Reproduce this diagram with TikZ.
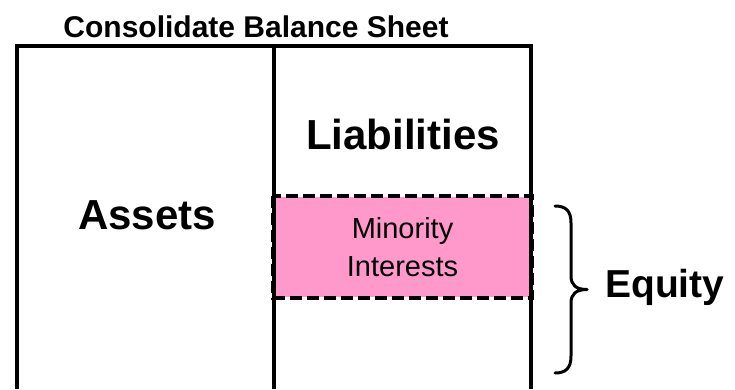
\documentclass[tikz,border=0pt]{standalone}
\usepackage{fontspec}
\setmainfont{Liberation Sans}
\definecolor{minpink}{HTML}{FF99CC}
\begin{document}
\begin{tikzpicture}[x=1pt,y=-1pt,
  frame/.style={line width=3.5pt},
  heading/.style={font=\fontsize{30}{34}\selectfont\bfseries, anchor=base, inner sep=0pt},
  bigword/.style={font=\fontsize{42}{48}\selectfont\bfseries, anchor=base, inner sep=0pt},
  minbox/.style={fill=minpink, minimum width=257pt, minimum height=100pt,
    inner sep=0pt, outer sep=1pt, align=center, font=\fontsize{29}{38}\selectfont},
  dashedge/.style={line width=4pt, dash pattern=on 12pt off 5pt},
  bracestroke/.style={line width=3pt, line join=round, line cap=round}]
\useasboundingbox (0,0) rectangle (735,389);

% two-column sheet, open at the bottom
\coordinate (tl) at (17,46);
\coordinate (tr) at (531,46);
\coordinate (tm) at (274,46);
\coordinate (bl) at (17,389);
\coordinate (br) at (531,389);
\coordinate (bm) at (274,389);

% minority interests band in the right column
\node[minbox] (minority) at (402.5,247) {Minority\\Interests};

\draw[frame] (bl) -- (tl) -- (tr) -- (br);
\draw[frame] (tm) -- (bm);
\draw[dashedge] (minority.north west) rectangle (minority.south east);

% labels
\node[heading] (title) at (256,37) {Consolidate Balance Sheet};
\node[bigword] (liab) at (403,149) {Liabilities};
\node[bigword] (assets) at (147,229) {Assets};
\node[bigword, font=\fontsize{39}{45}\selectfont\bfseries, anchor=base west] (equity) at (605,297) {Equity};

% brace spanning the equity part
\coordinate (btop) at (555,206);
\coordinate (bbot) at (555,373);
\coordinate (btip) at (587,289.5);
\draw[bracestroke] (btop) .. controls (566,206) and (571,211) .. (571,223)
  -- (571,276) .. controls (571,285) and (576,289.5) .. (btip)
  .. controls (576,289.5) and (571,294) .. (571,303)
  -- (571,356) .. controls (571,368) and (566,373) .. (bbot);
\end{tikzpicture}
\end{document}
